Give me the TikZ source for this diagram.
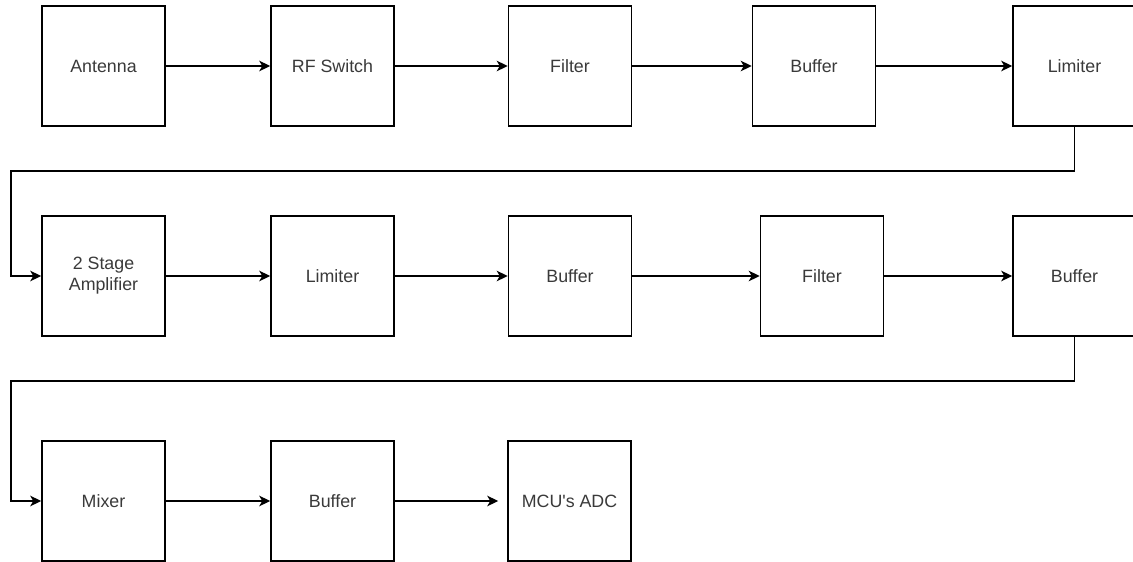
\documentclass[tikz,border=0pt]{standalone}
\usepackage{fontspec}
\setmainfont{Liberation Sans}[Ligatures=TeXOff]
\usetikzlibrary{arrows.meta}
\definecolor{txt}{HTML}{3A3A3A}
\begin{document}
\begin{tikzpicture}[x=1pt,y=-1pt,
  blk/.style={draw=black, line width=1.5pt, fill=white, minimum width=123pt, minimum height=120pt,
    inner sep=0pt, align=center, text=txt, font=\fontsize{17.8}{21}\selectfont},
  conn/.style={draw=black, line width=1.5pt, -{Stealth[length=11pt,width=10.5pt,inset=3pt]}}]
\useasboundingbox (0,0) rectangle (1133,562);
\clip (0,0) rectangle (1133,562);
% row 1
\node[blk] (ant)  at (103.5,66) {Antenna};
\node[blk] (rfs)  at (332.5,66) {RF Switch};
\node[blk] (fil1) at (570,66) {Filter};
\node[blk] (buf1) at (814,66) {Buffer};
\node[blk] (lim1) at (1074.5,66) {Limiter};
% row 2
\node[blk] (amp)  at (103.5,276) {2 Stage\\Amplifier};
\node[blk] (lim2) at (332.5,276) {Limiter};
\node[blk] (buf2) at (570,276) {Buffer};
\node[blk] (fil2) at (822,276) {Filter};
\node[blk] (buf3) at (1074.5,276) {Buffer};
% row 3
\node[blk] (mix)  at (103.5,501) {Mixer};
\node[blk] (buf4) at (332.5,501) {Buffer};
\node[blk] (adc)  at (569.5,501) {MCU's ADC};
% turn points
\coordinate (t1a) at (1074.5,171);
\coordinate (t1b) at (11,171);
\coordinate (t2a) at (1074.5,381);
\coordinate (t2b) at (11,381);
% connectors
\draw[conn] (ant) -- (rfs);
\draw[conn] (rfs) -- (fil1);
\draw[conn] (fil1) -- (buf1);
\draw[conn] (buf1) -- (lim1);
\draw[conn] (lim1.south) -- (t1a) -- (t1b) |- (amp.west);
\draw[conn] (amp) -- (lim2);
\draw[conn] (lim2) -- (buf2);
\draw[conn] (buf2) -- (fil2);
\draw[conn] (fil2) -- (buf3);
\draw[conn] (buf3.south) -- (t2a) -- (t2b) |- (mix.west);
\draw[conn] (mix) -- (buf4);
\draw[conn, shorten >=9pt] (buf4) -- (adc);
\end{tikzpicture}
\end{document}
